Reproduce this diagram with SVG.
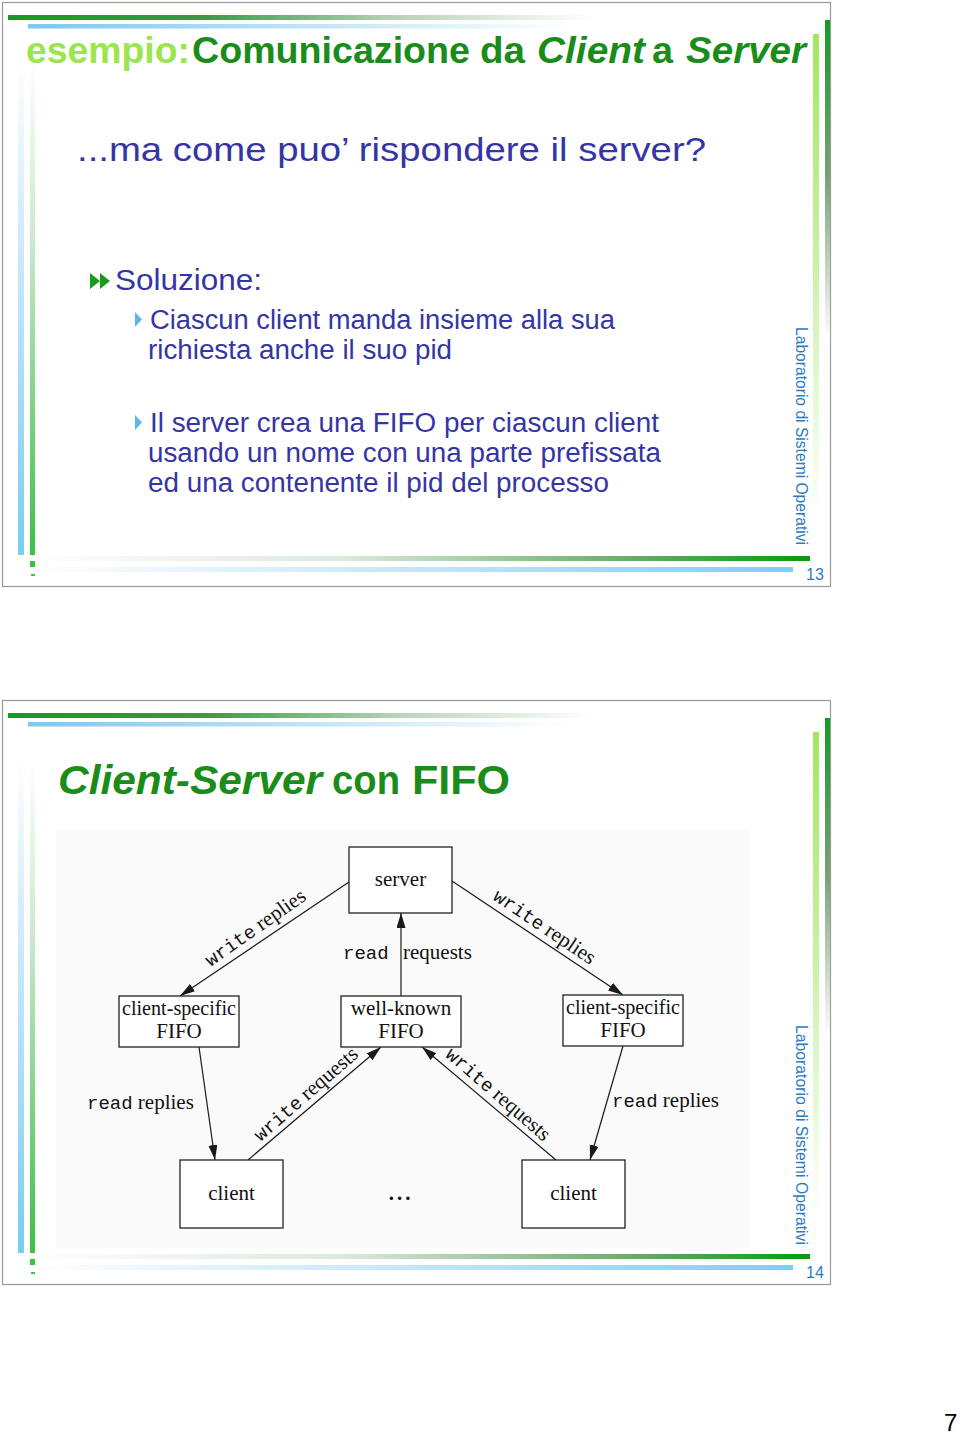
<svg xmlns="http://www.w3.org/2000/svg" width="960" height="1434" viewBox="0 0 960 1434">
<defs>
<linearGradient id="gTop" x1="0" y1="0" x2="1" y2="0"><stop offset="0" stop-color="#159a22"/><stop offset="0.25" stop-color="#3a9a44"/><stop offset="0.5" stop-color="#b9d3b9"/><stop offset="0.75" stop-color="#ffffff"/></linearGradient>
<linearGradient id="bTop" x1="0" y1="0" x2="1" y2="0"><stop offset="0" stop-color="#7cc8f0"/><stop offset="0.45" stop-color="#c8e6f6"/><stop offset="0.8" stop-color="#ffffff"/></linearGradient>
<linearGradient id="gBot" x1="0" y1="0" x2="1" y2="0"><stop offset="0" stop-color="#ffffff"/><stop offset="0.4" stop-color="#dde8dd"/><stop offset="0.75" stop-color="#6fb06f"/><stop offset="1" stop-color="#0a9a0a"/></linearGradient>
<linearGradient id="bBot" x1="0" y1="0" x2="1" y2="0"><stop offset="0" stop-color="#ffffff"/><stop offset="0.5" stop-color="#c4e6f8"/><stop offset="1" stop-color="#7ccff4"/></linearGradient>
<linearGradient id="bLeft" x1="0" y1="0" x2="0" y2="1"><stop offset="0" stop-color="#ffffff"/><stop offset="0.3" stop-color="#d6eefb"/><stop offset="1" stop-color="#78cdf2"/></linearGradient>
<linearGradient id="gLeft" x1="0" y1="0" x2="0" y2="1"><stop offset="0" stop-color="#ffffff"/><stop offset="0.35" stop-color="#cfe8cf"/><stop offset="1" stop-color="#3cc048"/></linearGradient>
<linearGradient id="gRight" x1="0" y1="0" x2="0" y2="1"><stop offset="0" stop-color="#169a22"/><stop offset="0.5" stop-color="#7aa27a"/><stop offset="1" stop-color="#ffffff"/></linearGradient>
<linearGradient id="lRight" x1="0" y1="0" x2="0" y2="1"><stop offset="0" stop-color="#a2e85e"/><stop offset="0.45" stop-color="#c8f0a0"/><stop offset="1" stop-color="#ffffff"/></linearGradient>
<marker id="ah" markerUnits="userSpaceOnUse" markerWidth="16" markerHeight="10" refX="15" refY="4.5" orient="auto"><path d="M0,0 L15,4.5 L0,9 z" fill="#1a1a1a"/></marker>
<g id="deco">
<rect x="2.5" y="2.5" width="828" height="584" fill="#ffffff" stroke="#9a9a9a" stroke-width="1.2"/>
<rect x="8" y="15" width="780" height="5" fill="url(#gTop)"/>
<rect x="28" y="24" width="680" height="4.5" fill="url(#bTop)"/>
<rect x="825" y="20" width="5" height="320" fill="url(#gRight)"/>
<rect x="813" y="34" width="6" height="480" fill="url(#lRight)"/>
<rect x="18" y="60" width="6" height="495" fill="url(#bLeft)"/>
<rect x="30" y="60" width="5" height="495" fill="url(#gLeft)"/>
<rect x="30" y="561" width="5" height="6" fill="#3cc048"/>
<rect x="31" y="574" width="4" height="2" fill="#3cc048"/>
<rect x="30" y="556" width="780" height="5" fill="url(#gBot)"/>
<rect x="30" y="567" width="763" height="5" fill="url(#bBot)"/>
</g>
</defs>
<style>
.ttl{font-family:"Liberation Sans",Arial,sans-serif;font-weight:bold;fill:#1a8c1a}
.lt{fill:#9be64e}
.bd{font-family:"Liberation Sans",Arial,sans-serif;fill:#3535a5}
.vt{font-family:"Liberation Sans",Arial,sans-serif;fill:#2b7bc4;font-size:16px}
.pn{font-family:"Liberation Sans",Arial,sans-serif;fill:#2b7bc4;font-size:16px}
.box{fill:#ffffff;stroke:#222;stroke-width:1.3}
.sf{font-family:"Liberation Serif","Times New Roman",serif;font-size:21px;fill:#111;text-anchor:middle}
.lb{font-family:"Liberation Serif","Times New Roman",serif;font-size:21px;fill:#111}
.mo{font-family:"Liberation Mono","Courier New",monospace;font-size:19px}
.cn{stroke:#1a1a1a;stroke-width:1.2;fill:none;marker-end:url(#ah)}
</style>
<rect width="960" height="1434" fill="#ffffff"/>

<!-- Slide 1 -->
<g id="slide1">
<use href="#deco"/>
<text class="ttl" y="63" font-size="36"><tspan class="lt" x="26" textLength="164" lengthAdjust="spacingAndGlyphs">esempio:</tspan><tspan x="192" textLength="278" lengthAdjust="spacingAndGlyphs">Comunicazione</tspan><tspan x="480" textLength="45" lengthAdjust="spacingAndGlyphs">da</tspan><tspan x="537" font-style="italic" textLength="108" lengthAdjust="spacingAndGlyphs">Client</tspan><tspan x="652" textLength="21" lengthAdjust="spacingAndGlyphs">a</tspan><tspan x="686" font-style="italic" textLength="120" lengthAdjust="spacingAndGlyphs">Server</tspan></text>
<text class="bd" x="77" y="161" font-size="33" textLength="629" lengthAdjust="spacingAndGlyphs">...ma come puo’ rispondere il server?</text>
<path d="M90,273 L100,281 L90,289 z M100,273 L110,281 L100,289 z" fill="#1a9a1a"/>
<text class="bd" x="115" y="290" font-size="30" textLength="147" lengthAdjust="spacingAndGlyphs">Soluzione:</text>
<path d="M135,312 L142,319.5 L135,327 z" fill="#5cb8ec"/>
<text class="bd" x="150" y="329" font-size="27" textLength="465" lengthAdjust="spacingAndGlyphs">Ciascun client manda insieme alla sua</text>
<text class="bd" x="148" y="359" font-size="27" textLength="304" lengthAdjust="spacingAndGlyphs">richiesta anche il suo pid</text>
<path d="M135,415 L142,422.5 L135,430 z" fill="#5cb8ec"/>
<text class="bd" x="150" y="432" font-size="27" textLength="509" lengthAdjust="spacingAndGlyphs">Il server crea una FIFO per ciascun client</text>
<text class="bd" x="148" y="462" font-size="27" textLength="513" lengthAdjust="spacingAndGlyphs">usando un nome con una parte prefissata</text>
<text class="bd" x="148" y="492" font-size="27" textLength="461" lengthAdjust="spacingAndGlyphs">ed una contenente il pid del processo</text>
<text class="vt" transform="translate(796,327) rotate(90)" textLength="218" lengthAdjust="spacingAndGlyphs">Laboratorio di Sistemi Operativi</text>
<text class="pn" x="806" y="580">13</text>
</g>

<!-- Slide 2 -->
<g id="slide2">
<use href="#deco" y="698"/>
<text class="ttl" y="794" font-size="41"><tspan x="58" font-style="italic" textLength="264" lengthAdjust="spacingAndGlyphs">Client-Server</tspan><tspan x="332" textLength="68" lengthAdjust="spacingAndGlyphs">con</tspan><tspan x="412" textLength="98" lengthAdjust="spacingAndGlyphs">FIFO</tspan></text>
<rect x="56" y="830" width="694" height="418" fill="#fafafa"/>
<text class="vt" transform="translate(796,1025) rotate(90)" textLength="220" lengthAdjust="spacingAndGlyphs">Laboratorio di Sistemi Operativi</text>
<text class="pn" x="806" y="1278">14</text>
</g>

<!-- Connectors -->
<g id="connectors">
<line class="cn" x1="349" y1="882" x2="180" y2="996"/>
<line class="cn" x1="401" y1="996" x2="401" y2="913"/>
<line class="cn" x1="452" y1="881" x2="623" y2="995"/>
<line class="cn" x1="199" y1="1047" x2="215" y2="1160"/>
<line class="cn" x1="248" y1="1160" x2="381" y2="1047"/>
<line class="cn" x1="556" y1="1160" x2="422" y2="1047"/>
<line class="cn" x1="623" y1="1046" x2="590" y2="1160"/>
<text class="lb" text-anchor="middle" transform="translate(259,933) rotate(-35)"><tspan class="mo">write</tspan> replies</text>
<text class="lb" text-anchor="middle" transform="translate(541,932) rotate(34)"><tspan class="mo">write</tspan> replies</text>
<text class="lb" x="343" y="959"><tspan class="mo">read</tspan></text>
<text class="lb" x="403" y="959">requests</text>
<text class="lb" x="87" y="1109"><tspan class="mo">read</tspan> replies</text>
<text class="lb" x="612" y="1107"><tspan class="mo">read</tspan> replies</text>
<text class="lb" text-anchor="middle" transform="translate(310,1099) rotate(-41)"><tspan class="mo">write</tspan> requests</text>
<text class="lb" text-anchor="middle" transform="translate(494,1099) rotate(41)"><tspan class="mo">write</tspan> requests</text>
</g>

<!-- Nodes -->
<g id="server"><rect class="box" x="349" y="847" width="103" height="66"/><text class="sf" x="400.5" y="886">server</text></g>
<g id="fifo-left"><rect class="box" x="119" y="996" width="120" height="51"/><text class="sf" x="179" y="1015" textLength="114" lengthAdjust="spacingAndGlyphs">client-specific</text><text class="sf" x="179" y="1038">FIFO</text></g>
<g id="fifo-wellknown"><rect class="box" x="341" y="996" width="120" height="51"/><text class="sf" x="401" y="1015">well-known</text><text class="sf" x="401" y="1038">FIFO</text></g>
<g id="fifo-right"><rect class="box" x="563" y="995" width="120" height="51"/><text class="sf" x="623" y="1014" textLength="114" lengthAdjust="spacingAndGlyphs">client-specific</text><text class="sf" x="623" y="1037">FIFO</text></g>
<g id="client-left"><rect class="box" x="180" y="1160" width="103" height="68"/><text class="sf" x="231.5" y="1200">client</text></g>
<g id="dots"><text class="sf" x="401" y="1200" font-weight="bold" font-size="24" letter-spacing="3">...</text></g>
<g id="client-right"><rect class="box" x="522" y="1160" width="103" height="68"/><text class="sf" x="573.5" y="1200">client</text></g>

<text x="944" y="1431" font-family="Liberation Sans,Arial,sans-serif" font-size="24" fill="#000">7</text>
</svg>
